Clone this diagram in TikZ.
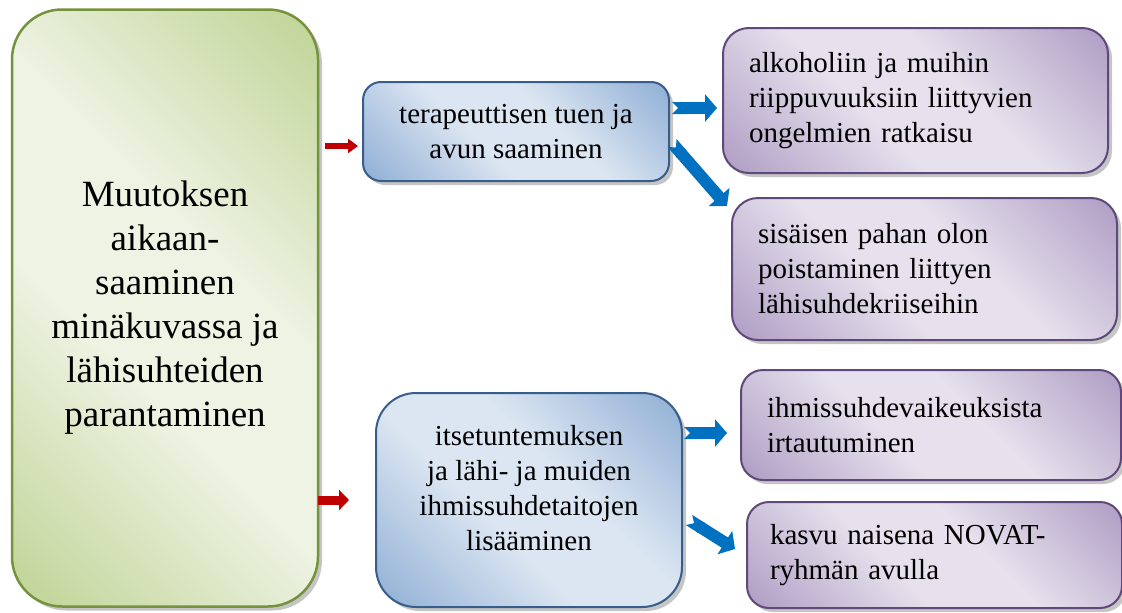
\documentclass[tikz,border=0pt]{standalone}
\usepackage{fontspec}
\newfontfamily\lserif{Liberation Serif}
\usetikzlibrary{arrows.meta,shadows}
\definecolor{gL}{HTML}{EEF3E3}\definecolor{gD}{HTML}{C3D69B}\definecolor{gB}{HTML}{76923C}
\definecolor{bL}{HTML}{DCE6F2}\definecolor{bD}{HTML}{95B3D7}\definecolor{bB}{HTML}{385D8A}
\definecolor{pL}{HTML}{E6E1ED}\definecolor{pD}{HTML}{B3A2C7}\definecolor{pB}{HTML}{5F497A}
\definecolor{shadowC}{HTML}{8C8C8C}
\definecolor{arrRed}{HTML}{C00000}\definecolor{arrBlue}{HTML}{0070C0}
\pgfdeclarehorizontalshading{shgreen}{100bp}{color(0bp)=(gD); color(17bp)=(gD); color(42bp)=(gL); color(58bp)=(gL); color(83bp)=(gD); color(100bp)=(gD)}
\pgfdeclarehorizontalshading{shblue}{100bp}{color(0bp)=(bD); color(17bp)=(bD); color(42bp)=(bL); color(58bp)=(bL); color(83bp)=(bD); color(100bp)=(bD)}
\pgfdeclarehorizontalshading{shpurple}{100bp}{color(0bp)=(pD); color(17bp)=(pD); color(42bp)=(pL); color(58bp)=(pL); color(83bp)=(pD); color(100bp)=(pD)}
\tikzset{
  boxbase/.style={rectangle, line width=2pt, inner sep=0pt, shading angle=45,
    drop shadow={shadow xshift=4pt, shadow yshift=-4pt, fill=shadowC}},
  greenbox/.style={boxbase, draw=gB, line width=2.5pt, shading=shgreen, rounded corners=50pt,
    align=center},
  bluebox/.style={boxbase, draw=bB, shading=shblue, align=center},
  purplebox/.style={boxbase, draw=pB, shading=shpurple, align=left, inner xsep=26pt},
  txt/.style={align=center, inner sep=0pt},
  redarrow/.style={draw=arrRed, line width=#1, -{Triangle[width=2*#1+2pt, length=10pt]}},
  bluearrow/.style={draw=arrBlue, line width=12pt, {Triangle Cap[reversed]}-{Triangle[width=27pt, length=12pt]}}
}
\newcommand{\bigtxt}{\lserif\fontsize{37}{44}\selectfont}
\newcommand{\smalltxt}{\lserif\fontsize{29}{35}\selectfont}
\begin{document}
\begin{tikzpicture}[x=1pt,y=-1pt]
\useasboundingbox (0,0) rectangle (1122,613);
% main box
\node[greenbox, font=\bigtxt, minimum width=306pt, minimum height=597pt] (main) at (165,308)
  {Muutoksen\\aikaan-\\saaminen\\minäkuvassa ja\\lähisuhteiden\\parantaminen};
% blue boxes
\node[bluebox, font=\smalltxt, rounded corners=18pt, minimum width=306pt, minimum height=99pt] (b1) at (516,131.5)
  {terapeuttisen tuen ja\\avun saaminen};
\node[bluebox, rounded corners=40pt, minimum width=306pt, minimum height=214pt] (b2) at (529,500) {};
\node[txt, font=\smalltxt] (b2t) at (529,488) {itsetuntemuksen\\ja lähi- ja muiden\\ihmissuhdetaitojen\\lisääminen};
% purple boxes
\node[purplebox, font=\smalltxt, rounded corners=26pt, minimum width=385pt, text width=333pt, minimum height=145pt] (p1) at (915.5,100.5)
  {alkoholiin ja muihin\\riippuvuuksiin liittyvien\\ongelmien ratkaisu};
\node[purplebox, font=\smalltxt, rounded corners=26pt, minimum width=385pt, text width=333pt, minimum height=142pt] (p2) at (924.5,269)
  {sisäisen pahan olon\\poistaminen liittyen\\lähisuhdekriiseihin};
\node[purplebox, font=\smalltxt, rounded corners=22pt, minimum width=380pt, text width=328pt, minimum height=110pt] (p3) at (931,425)
  {ihmissuhdevaikeuksista\\irtautuminen};
\node[purplebox, font=\smalltxt, inner xsep=23pt, rounded corners=22pt, minimum width=375pt, text width=329pt, minimum height=106pt] (p4) at (934.5,555)
  {kasvu naisena NOVAT-\\ryhmän avulla};
% arrow end points
\coordinate (r1a) at (325,146); \coordinate (r1b) at (358,146);
\coordinate (r2a) at (318,500); \coordinate (r2b) at (349,500);
\coordinate (a1a) at (672,108); \coordinate (a1b) at (717,108);
\coordinate (a2a) at (672,143); \coordinate (a2b) at (727,206);
\coordinate (a3a) at (684,433); \coordinate (a3b) at (727,433);
\coordinate (a4a) at (689,520); \coordinate (a4b) at (735,549);
\draw[redarrow=6pt] (r1a) -- (r1b);
\draw[redarrow=9pt] (r2a) -- (r2b);
\draw[bluearrow] (a1a) -- (a1b);
\draw[bluearrow] (a2a) -- (a2b);
\draw[bluearrow] (a3a) -- (a3b);
\draw[bluearrow] (a4a) -- (a4b);
\end{tikzpicture}
\end{document}
